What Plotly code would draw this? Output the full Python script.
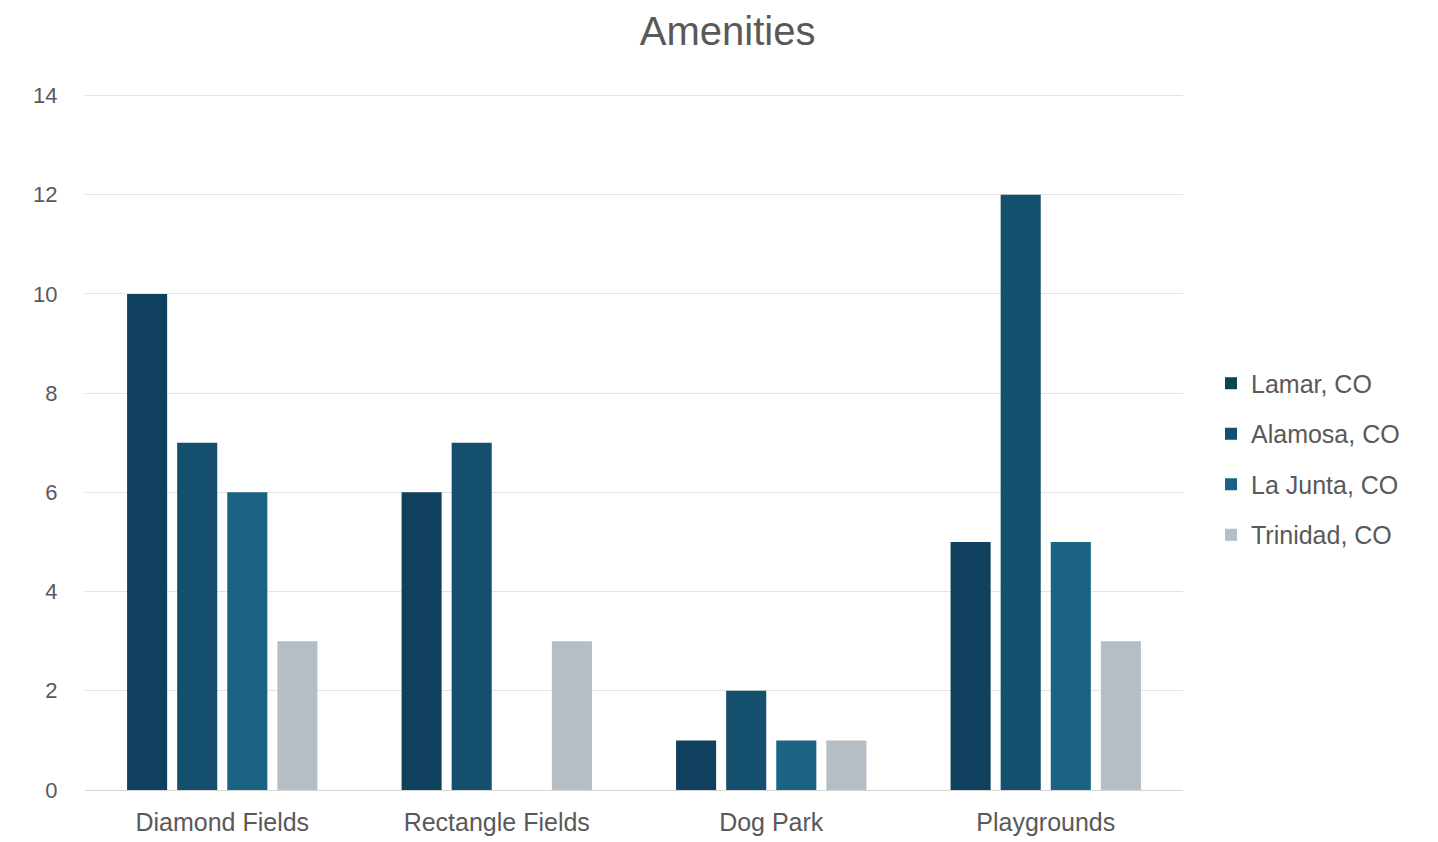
import plotly.graph_objects as go

categories = ["Diamond Fields", "Rectangle Fields", "Dog Park", "Playgrounds"]
series_names = ["Lamar, CO", "Alamosa, CO", "La Junta, CO", "Trinidad, CO"]
lamar = [10, 6, 1, 5]
alamosa = [7, 7, 2, 12]
la_junta = [6, 0, 1, 5]
trinidad = [3, 3, 1, 3]
y_ticks = [0, 2, 4, 6, 8, 10, 12, 14]

colors = ["#0f405e", "#144f6e", "#1a6383", "#b5bdc5"]
values = [lamar, alamosa, la_junta, trinidad]

fig = go.Figure()
for name, vals, col in zip(series_names, values, colors):
    fig.add_trace(go.Bar(
        x=categories, y=vals, name=name, marker=dict(color=col, line=dict(width=0)),
        legendgroup=name,
    ))

font_family = "Liberation Sans, Arial, sans-serif"
text_gray = "#595959"
fig.update_layout(
    width=1438, height=842,
    paper_bgcolor="white", plot_bgcolor="white",
    margin=dict(l=85, r=255, t=94, b=52, autoexpand=False),
    barmode="group", bargap=0.27, bargroupgap=0.2,
    title=dict(text="Amenities", x=0.506, xanchor="center", y=0.963, yanchor="middle",
               font=dict(family=font_family, size=40, color=text_gray)),
    font=dict(family=font_family, color=text_gray),
    xaxis=dict(showgrid=False, showline=True, linecolor="#d6d6d6", linewidth=1,
               tickfont=dict(size=25, color=text_gray), automargin=False,
               ticks="outside", ticklen=10, tickcolor="rgba(0,0,0,0)"),
    yaxis=dict(range=[0, 14.03], tickvals=y_ticks, showgrid=True, gridcolor="#e3e3e3",
               gridwidth=1, zeroline=False, showline=False, automargin=False,
               tickfont=dict(size=22, color=text_gray), ticks="outside", ticklen=22,
               tickcolor="rgba(0,0,0,0)"),
    legend=dict(x=(1211 - 85) / 1098, xanchor="left", y=0.4756, yanchor="middle",
                font=dict(size=25, color=text_gray), tracegroupgap=15,
                itemwidth=30, bgcolor="rgba(0,0,0,0)"),
)

fig.write_html("out.html")
